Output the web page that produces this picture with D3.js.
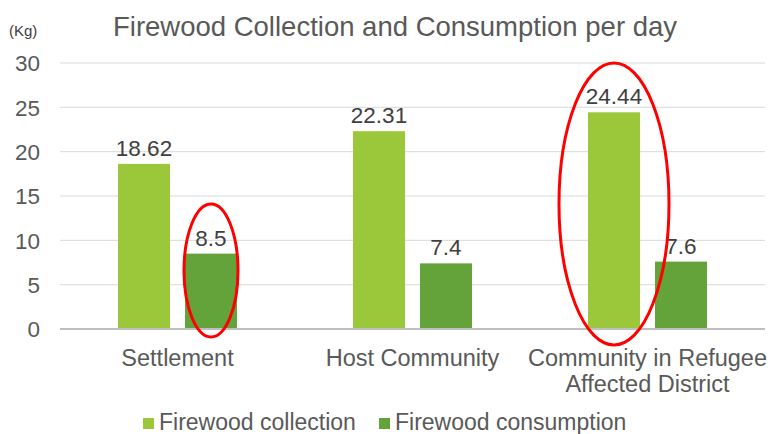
<!DOCTYPE html>
<html>
<head>
<meta charset="utf-8">
<script src="https://d3js.org/d3.v7.min.js"></script>
<style>
    body { margin: 0; background: #fff; font-family: Arial, "Liberation Sans", sans-serif; }
    svg text { fill: #595959; }
</style>
</head>
<body>
<svg id="svg"></svg>
<script>
    const categories = [['Settlement'], ['Host Community'], ['Community in Refugee', 'Affected District']];
    const seriesNames = ['Firewood collection', 'Firewood consumption'];
    const collection = [18.62, 22.31, 24.44];
    const consumption = [8.5, 7.4, 7.6];
    const yTicks = [0, 5, 10, 15, 20, 25, 30];
    const colors = ['#9BC83A', '#63A33A'];

    let visWidth = 768;
    let visHeight = 434;
    let svg = d3.select('#svg').attr('width', visWidth).attr('height', visHeight);

    let plotLeft = 60, plotRight = 765, plotTop = 63, plotBottom = 329;

    let xScale = d3.scaleBand()
        .domain(d3.range(categories.length))
        .range([plotLeft, plotRight])
        .paddingInner(0)
        .paddingOuter(0);

    let yScale = d3.scaleLinear().domain([0, 30]).range([plotBottom, plotTop]);

    // inner band for the two series in each category
    let barW = 52, gap = 15;
    let inner = d3.scaleBand()
        .domain([0, 1])
        .range([0, barW * 2 + gap])
        .paddingInner(gap / (barW + gap));
    let groupOffset = (xScale.bandwidth() - (barW * 2 + gap)) / 2;

    // title
    svg.append('text')
        .attr('x', 395).attr('y', 36)
        .attr('text-anchor', 'middle')
        .style('font-size', '27.5px')
        .text('Firewood Collection and Consumption per day');

    svg.append('text')
        .attr('x', 9).attr('y', 36)
        .style('font-size', '15px')
        .style('fill', '#404040')
        .text('(Kg)');

    // gridlines
    svg.append('g').selectAll('line')
        .data(yTicks.filter(t => t > 0))
        .enter().append('line')
        .attr('x1', plotLeft).attr('x2', plotRight)
        .attr('y1', d => yScale(d)).attr('y2', d => yScale(d))
        .attr('stroke', '#d9d9d9').attr('stroke-width', 1);

    // y axis
    let yAxis = d3.axisLeft(yScale).tickValues(yTicks).tickSize(0).tickPadding(0);
    let yAxisGroup = svg.append('g').attr('transform', 'translate(40, 0)').call(yAxis);
    yAxisGroup.select('.domain').remove();
    yAxisGroup.selectAll('text')
        .style('font-size', '22.5px')
        .style('font-family', 'Arial, "Liberation Sans", sans-serif')
        .attr('fill', '#595959')
        .attr('dy', '0.35em');

    // bars
    let series = [collection, consumption];
    series.forEach((vals, s) => {
        let g = svg.append('g');
        g.selectAll('rect')
            .data(vals)
            .enter().append('rect')
            .attr('x', (d, i) => xScale(i) + groupOffset + inner(s))
            .attr('y', d => yScale(d))
            .attr('width', inner.bandwidth())
            .attr('height', d => yScale(0) - yScale(d))
            .attr('fill', colors[s]);
        g.selectAll('text')
            .data(vals)
            .enter().append('text')
            .attr('x', (d, i) => xScale(i) + groupOffset + inner(s) + inner.bandwidth() / 2)
            .attr('y', d => yScale(d) - 8)
            .attr('text-anchor', 'middle')
            .style('font-size', '22.5px')
            .style('fill', '#404040')
            .text(d => d);
    });

    // baseline
    svg.append('line')
        .attr('x1', plotLeft).attr('x2', plotRight)
        .attr('y1', yScale(0)).attr('y2', yScale(0))
        .attr('stroke', '#bfbfbf').attr('stroke-width', 2);

    // category labels
    let catG = svg.append('g');
    categories.forEach((lines, i) => {
        let t = catG.append('text')
            .attr('x', xScale(i) + xScale.bandwidth() / 2)
            .attr('y', 366)
            .attr('text-anchor', 'middle')
            .style('font-size', '23.5px');
        lines.forEach((ln, j) => {
            t.append('tspan')
                .attr('x', xScale(i) + xScale.bandwidth() / 2)
                .attr('dy', j === 0 ? 0 : 26)
                .text(ln);
        });
    });

    // highlight ellipses
    let marks = [{cat: 0, s: 1, rx: 27, y0: 204, y1: 337},
                 {cat: 2, s: 0, rx: 55, y0: 63, y1: 345}];
    marks.forEach(m => {
        let cx = xScale(m.cat) + groupOffset + inner(m.s) + inner.bandwidth() / 2;
        svg.append('ellipse')
            .attr('cx', cx)
            .attr('cy', (m.y0 + m.y1) / 2)
            .attr('rx', m.rx)
            .attr('ry', (m.y1 - m.y0) / 2)
            .attr('fill', 'none')
            .attr('stroke', '#ff0000')
            .attr('stroke-width', 3);
    });

    // legend
    let legendX = [143, 379];
    seriesNames.forEach((name, s) => {
        svg.append('rect')
            .attr('x', legendX[s]).attr('y', 418)
            .attr('width', 11).attr('height', 11)
            .attr('fill', colors[s]);
        svg.append('text')
            .attr('x', legendX[s] + 16).attr('y', 430)
            .style('font-size', '23px')
            .text(name);
    });
</script>
</body>
</html>
